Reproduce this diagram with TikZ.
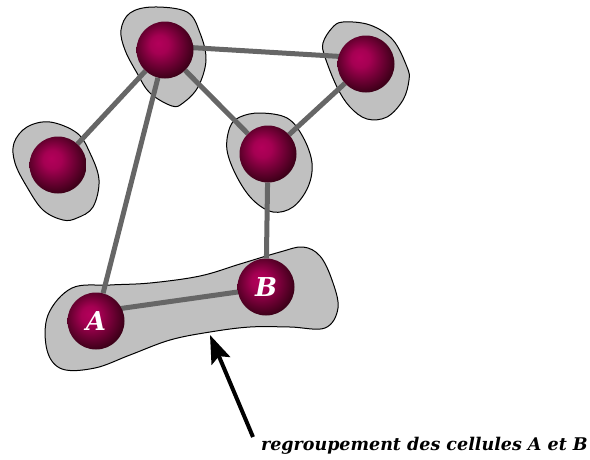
\documentclass[tikz,border=0pt]{standalone}
\usepackage{fontspec}
\newfontfamily\cellfont{DejaVu Serif}
\usepackage{tikz}
\usetikzlibrary{arrows.meta,positioning,backgrounds}
\definecolor{cBallIn}{HTML}{B3005A}
\definecolor{cBallOut}{HTML}{2A000E}
\definecolor{cLink}{HTML}{666666}
\definecolor{cBlob}{HTML}{C0C0C0}
\pgfdeclareradialshading{cellball}{\pgfpoint{-6bp}{6bp}}{color(0bp)=(cBallIn); color(8bp)=(cBallIn!90!cBallOut); color(31bp)=(cBallOut); color(50bp)=(cBallOut)}
\tikzset{
  cell/.style={circle,minimum size=57pt,inner sep=0pt,shade,shading=cellball,text=white,font=\cellfont\fontsize{26}{26}\selectfont\bfseries\itshape},
  link/.style={line width=5pt,color=cLink},
  blob/.style={draw=black,line width=1pt,fill=cBlob},
  arr/.style={-{Stealth[length=28pt,width=20pt,inset=5pt]},line width=4pt},
  lbl/.style={font=\cellfont\fontsize{17.5}{17.5}\selectfont\bfseries\itshape,anchor=base east,inner sep=0pt},
}

\begin{document}
\begin{tikzpicture}[x=1pt,y=-1pt]
  \useasboundingbox (0,0) rectangle (590,459);
  % cells
  \node[cell] (top)   at (165,50)  {};
  \node[cell] (right) at (366,64)  {};
  \node[cell] (left)  at (58,165)  {};
  \node[cell] (mid)   at (268,154) {};
  \node[cell] (A)     at (96,321)  {A};
  \node[cell] (B)     at (266,287) {B};
  \begin{pgfonlayer}{background}
    % regions round the cells
    \draw[blob] plot[smooth cycle,tension=0.6] coordinates {(153,7) (187,12) (200,33) (206,60) (198,87) (183,103) (172,106) (150,93) (137,73) (125,50) (121,30) (130,13)};
    \draw[blob] plot[smooth cycle,tension=0.6] coordinates {(343,22) (370,25) (393,40) (407,67) (409,80) (403,100) (387,117) (367,119) (350,107) (337,87) (325,57) (323,43) (332,28)};
    \draw[blob] plot[smooth cycle,tension=0.6] coordinates {(50,122) (77,133) (90,153) (99,180) (93,207) (77,218) (63,220) (43,210) (27,187) (15,163) (14,143) (27,127)};
    \draw[blob] plot[smooth cycle,tension=0.6] coordinates {(260,113) (287,118) (303,137) (312,163) (308,187) (293,207) (273,212) (253,200) (237,177) (227,150) (230,127) (240,117)};
    \draw[blob] plot[smooth cycle,tension=0.6] coordinates {(72,288) (110,285) (150,283) (200,276) (240,264) (280,252) (303,247) (320,256) (332,280) (338,308) (325,328) (290,327) (250,327) (210,332) (170,340) (130,355) (95,368) (62,369) (47,350) (48,315)};
    % links
    \draw[link] ([yshift=4pt]top.center) -- ([yshift=6pt]right.center);
    \draw[link] (top) -- (left);
    \draw[link] (top) -- (A);
    \draw[link] (top) -- (mid);
    \draw[link] (right) -- (mid);
    \draw[link] (mid) -- (B);
    \draw[link] ([yshift=9pt]A.center) -- ([yshift=-1pt]B.center);
  \end{pgfonlayer}
  % caption and pointer
  \node[lbl] (cap) at (588,450) {regroupement des cellules A et B};
  \coordinate (tail) at (253,437);
  \coordinate (tip)  at (210,335);
  \draw[arr] (tail) -- (tip);
\end{tikzpicture}
\end{document}
